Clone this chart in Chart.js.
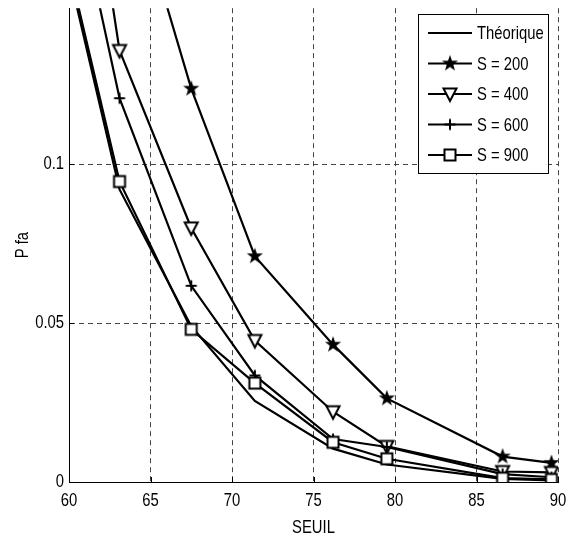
<!DOCTYPE html>
<html>
<head>
<meta charset="utf-8">
<script src="https://cdn.jsdelivr.net/npm/chart.js@4/dist/chart.umd.min.js"></script>
<style>
  html, body { margin: 0; padding: 0; background: #fff; }
  #wrap { width: 573px; height: 540px; }
</style>
</head>
<body>
<div id="wrap"><canvas id="chart" width="573" height="540"></canvas></div>
<script>
// seuil values (x) and Pfa curves
const seuil = [60, 63.1, 67.5, 71.4, 76.2, 79.5, 86.6, 89.6];
const theorique = [0.160, 0.092, 0.049, 0.0255, 0.0105, 0.0055, 0.0010, 0.0005];
const s200 = [0.330, 0.200, 0.1237, 0.0710, 0.0432, 0.0263, 0.0080, 0.0060];
const s400 = [0.240, 0.1357, 0.0799, 0.0445, 0.0221, 0.0112, 0.0033, 0.0030];
const s600 = [0.194, 0.1207, 0.0617, 0.0335, 0.0135, 0.0110, 0.0025, 0.0015];
const s900 = [0.162, 0.0945, 0.0480, 0.0311, 0.0125, 0.0073, 0.0012, 0.0008];
const labels = ['Théorique', 'S = 200', 'S = 400', 'S = 600', 'S = 900'];
const xTicks = [60, 65, 70, 75, 80, 85, 90];
const yTicks = [0, 0.05, 0.1];

const FONT = "19px 'Liberation Sans', Arial, sans-serif";
const NARROW = 0.78; // the original uses a condensed Helvetica

// condensed text helper
function txt(ctx, s, x, y, align, rot) {
  ctx.save();
  ctx.translate(x, y);
  if (rot) ctx.rotate(rot);
  ctx.scale(NARROW, 1);
  ctx.font = FONT;
  ctx.fillStyle = '#000';
  ctx.textAlign = align;
  ctx.textBaseline = 'middle';
  ctx.fillText(s, 0, 0);
  ctx.restore();
}

function makeMarker(kind) {
  const c = document.createElement('canvas');
  c.width = 20; c.height = 20;
  const g = c.getContext('2d');
  g.translate(10, 10);
  g.strokeStyle = '#000';
  g.fillStyle = '#000';
  g.lineWidth = 2;
  g.beginPath();
  if (kind == 'star') {
    for (let i = 0; i < 10; i++) {
      const r = i % 2 == 0 ? 8.5 : 3.4;
      const a = -Math.PI / 2 + i * Math.PI / 5;
      g.lineTo(r * Math.cos(a), r * Math.sin(a));
    }
    g.closePath();
    g.fill();
  } else if (kind == 'tri') {
    g.moveTo(-6.5, -5.5); g.lineTo(6.5, -5.5); g.lineTo(0, 7); g.closePath();
    g.fillStyle = '#fff'; g.fill(); g.stroke();
  } else if (kind == 'plus') {
    g.moveTo(-5.5, 0); g.lineTo(5.5, 0); g.moveTo(0, -5.5); g.lineTo(0, 5.5);
    g.stroke();
  } else if (kind == 'square') {
    g.rect(-5.5, -5.5, 11, 11);
    g.fillStyle = '#fff'; g.fill(); g.stroke();
  }
  return c;
}

const markers = [false, makeMarker('star'), makeMarker('tri'), makeMarker('plus'), makeMarker('square')];
const series = [theorique, s200, s400, s600, s900];

const datasets = series.map((vals, i) => ({
  label: labels[i],
  data: seuil.map((x, j) => ({x: x, y: vals[j]})),
  borderColor: '#000',
  borderWidth: 2.2,
  backgroundColor: '#fff',
  pointStyle: markers[i],
  pointRadius: markers[i] ? 6 : 0,
  pointHoverRadius: markers[i] ? 6 : 0,
  tension: 0,
  order: 5 - i
}));

// inward tick marks, tick labels and axis titles
const axisDecor = {
  id: 'axisDecor',
  afterDraw(chart) {
    const {ctx, chartArea: a, scales} = chart;
    ctx.save();
    ctx.strokeStyle = '#000';
    ctx.lineWidth = 1;
    ctx.beginPath();
    xTicks.forEach(v => {
      const px = Math.round(scales.x.getPixelForValue(v)) + 0.5;
      ctx.moveTo(px, a.bottom); ctx.lineTo(px, a.bottom - 5);
    });
    yTicks.forEach(v => {
      const py = Math.round(scales.y.getPixelForValue(v)) + 0.5;
      ctx.moveTo(a.left, py); ctx.lineTo(a.left + 5, py);
    });
    ctx.stroke();
    ctx.restore();
    xTicks.forEach(v => txt(ctx, String(v), scales.x.getPixelForValue(v), a.bottom + 19, 'center'));
    yTicks.forEach(v => txt(ctx, String(v), a.left - 5, scales.y.getPixelForValue(v), 'right'));
    txt(ctx, 'SEUIL', (a.left + a.right) / 2, 528, 'center');
    txt(ctx, 'P fa', 23, (a.top + a.bottom) / 2, 'center', -Math.PI / 2);
  }
};

// boxed legend with line + marker samples, inside the axes
const boxLegend = {
  id: 'boxLegend',
  afterDraw(chart) {
    const ctx = chart.ctx;
    const x0 = 418.5, y0 = 14.5, w = 130, h = 159;
    ctx.save();
    ctx.fillStyle = '#fff';
    ctx.fillRect(x0, y0, w, h);
    ctx.strokeStyle = '#000';
    ctx.lineWidth = 1;
    ctx.strokeRect(x0, y0, w, h);
    labels.forEach((lab, i) => {
      const y = 33 + i * 30.5;
      ctx.lineWidth = 2.2;
      ctx.beginPath();
      ctx.moveTo(428, y); ctx.lineTo(472, y);
      ctx.stroke();
      if (markers[i]) ctx.drawImage(markers[i], 450 - 10, y - 10);
      txt(ctx, lab, 477, y + 1, 'left');
    });
    ctx.restore();
  }
};

new Chart('chart', {
  type: 'line',
  data: {datasets: datasets},
  plugins: [axisDecor, boxLegend],
  options: {
    responsive: false,
    animation: false,
    layout: {padding: {top: 4, right: 15, left: 0, bottom: 0}},
    plugins: {legend: {display: false}, tooltip: {enabled: false}},
    scales: {
      x: {
        type: 'linear',
        min: 60, max: 90,
        afterFit: s => { s.height = 58; s.paddingLeft = 0; s.paddingRight = 0; },
        afterBuildTicks: s => { s.ticks = xTicks.map(v => ({value: v})); },
        ticks: {display: false},
        grid: {color: '#444', drawTicks: false},
        border: {color: '#000', width: 1, dash: [5, 4]}
      },
      y: {
        min: 0, max: 0.149,
        afterFit: s => { s.width = 69; s.paddingTop = 0; s.paddingBottom = 0; },
        afterBuildTicks: s => { s.ticks = yTicks.map(v => ({value: v})); },
        ticks: {display: false},
        grid: {color: '#444', drawTicks: false},
        border: {color: '#000', width: 1, dash: [5, 4]}
      }
    }
  }
});
</script>
</body>
</html>
